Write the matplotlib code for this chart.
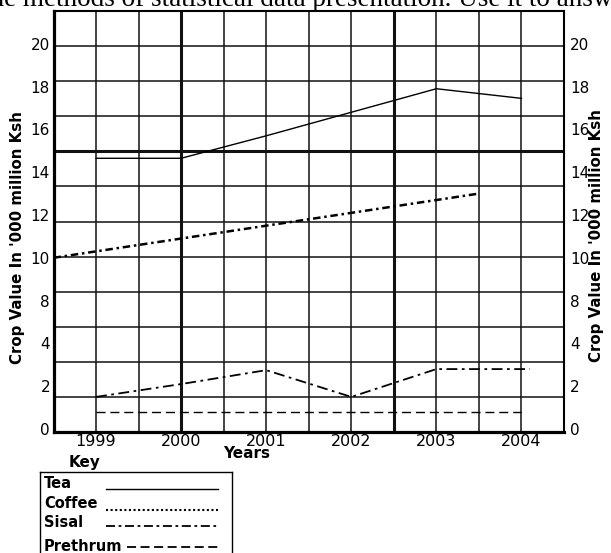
import numpy as np
import matplotlib
matplotlib.use("Agg")
import matplotlib.pyplot as plt

# values (crop value in '000 million Ksh)
tea_years = [1999, 2000, 2001, 2002, 2003, 2004]
tea_vals = [14.65, 14.65, 15.7, 16.8, 17.9, 17.45]

coffee_years = [1998.5, 2000, 2002, 2003.5]
coffee_vals = [10.0, 10.9, 12.1, 13.0]

sisal_years = [1999, 2000, 2001, 2002, 2003, 2004.1]
sisal_vals = [1.5, 2.1, 2.75, 1.5, 2.8, 2.8]

prethrum_years = [1999, 2004]
prethrum_vals = [0.8, 0.8]

year_ticks = [1999, 2000, 2001, 2002, 2003, 2004]
y_tick_vals = [0, 2, 4, 8, 10, 12, 14, 16, 18, 20]

# the printed scale is uneven (4 follows 2, 8 follows 4), so map labels to even slots
slot_vals = np.array([-2] + y_tick_vals + [22], dtype=float)
slot_pos = np.arange(-1, len(y_tick_vals) + 1, dtype=float)


def fwd(v):
    return np.interp(v, slot_vals, slot_pos)


def inv(s):
    return np.interp(s, slot_pos, slot_vals)


W, H = 611, 553
fig = plt.figure(figsize=(W / 100, H / 100), dpi=100)

ax = fig.add_axes([53.5 / W, (H - 432.3) / H, (564 - 53.5) / W, (432.3 - 10.7) / H])
ax.set_yscale('function', functions=(fwd, inv))
ylo, yhi = inv(-0.077), inv(9.773)
ax.set_ylim(ylo, yhi)
ax.set_xlim(1998.5, 2004.5)

# graph paper
for x in np.arange(1998.5, 2004.51, 0.5):
    lw = 2.2 if x in (2000, 2002.5) else 1.1
    ax.axvline(x, color='#111111', lw=lw, zorder=1)
rows = inv(np.linspace(-0.077, 9.773, 13))
for i, y in enumerate(rows):
    lw = 2.2 if i == 8 else 1.1
    ax.axhline(y, color='#111111', lw=lw, zorder=1)

ax.plot(tea_years, tea_vals, color='black', lw=1.0, zorder=3)
ax.plot(coffee_years, coffee_vals, color='black', lw=1.8,
        linestyle=(0, (3, 1.5, 1, 1.5)), zorder=3)
ax.plot(sisal_years, sisal_vals, color='black', lw=1.3,
        linestyle=(0, (6, 2.5, 1.5, 2.5)), zorder=3)
ax.plot(prethrum_years, prethrum_vals, color='black', lw=1.0,
        linestyle=(0, (6.5, 3.5)), zorder=3)

ax.set_xticks(year_ticks)
ax.set_xticklabels([str(y) for y in year_ticks], fontsize=11.5)
ax.set_yticks(y_tick_vals)
ax.set_yticklabels([str(v) for v in y_tick_vals], fontsize=11)
ax.yaxis.set_minor_locator(matplotlib.ticker.NullLocator())
ax.tick_params(axis='both', length=0)
ax.tick_params(axis='x', pad=1.5)
ax.tick_params(axis='y', pad=2.5)
for side, lw in [('left', 2.3), ('bottom', 2.3), ('top', 1.5), ('right', 1.5)]:
    ax.spines[side].set_linewidth(lw)
    ax.spines[side].set_color('black')

ax2 = ax.twinx()
ax2.set_yscale('function', functions=(fwd, inv))
ax2.set_ylim(ylo, yhi)
ax2.set_yticks(y_tick_vals)
ax2.set_yticklabels([str(v) for v in y_tick_vals], fontsize=11)
ax2.yaxis.set_minor_locator(matplotlib.ticker.NullLocator())
ax2.tick_params(axis='y', length=0, pad=4.5)
for s in ax2.spines.values():
    s.set_visible(False)

ylab = "Crop Value In '000 million Ksh"
fig.text(18 / W, 1 - 238 / H, ylab, rotation=90, ha='center', va='center',
         fontsize=10.8, weight='bold')
fig.text(597 / W, 1 - 236 / H, ylab, rotation=90, ha='center', va='center',
         fontsize=10.8, weight='bold')
fig.text(247 / W, 1 - 453 / H, 'Years', ha='center', va='center',
         fontsize=11, weight='bold')
fig.text(85 / W, 1 - 462 / H, 'Key', ha='center', va='center',
         fontsize=11, weight='bold')

# clipped line of the page text above the chart
fig.text(-17 / W, 1 - 6 / H,
         'the methods of statistical data presentation. Use it to answer the questions',
         family='Liberation Serif', fontsize=19.5, ha='left', va='baseline')

# key box (runs off the bottom of the page)
lax = fig.add_axes([40 / W, (H - 580) / H, 192 / W, (580 - 472.3) / H])
lax.set_xlim(0, 192)
lax.set_ylim(580 - 472.3, 0)
lax.set_xticks([])
lax.set_yticks([])
for s in lax.spines.values():
    s.set_linewidth(1.0)
    s.set_color('black')

key_names = ['Tea', 'Coffee', 'Sisal', 'Prethrum']
key_text_y = [11, 31, 50.5, 74.5]
key_line = [(66, 17), (66, 37.5), (66, 53.5), (87, 75)]
key_styles = [dict(lw=1.0, linestyle='-'),
              dict(lw=1.5, linestyle=(0, (1, 1.2))),
              dict(lw=1.3, linestyle=(0, (5, 2, 1.5, 2))),
              dict(lw=1.3, linestyle=(0, (5, 2.5)))]
for name, ty, (lx, ly), st in zip(key_names, key_text_y, key_line, key_styles):
    lax.text(4, ty, name, ha='left', va='center', fontsize=10.5, weight='bold')
    lax.plot([lx, 178], [ly, ly], color='black', **st)

fig.savefig('out.png', dpi=100)
